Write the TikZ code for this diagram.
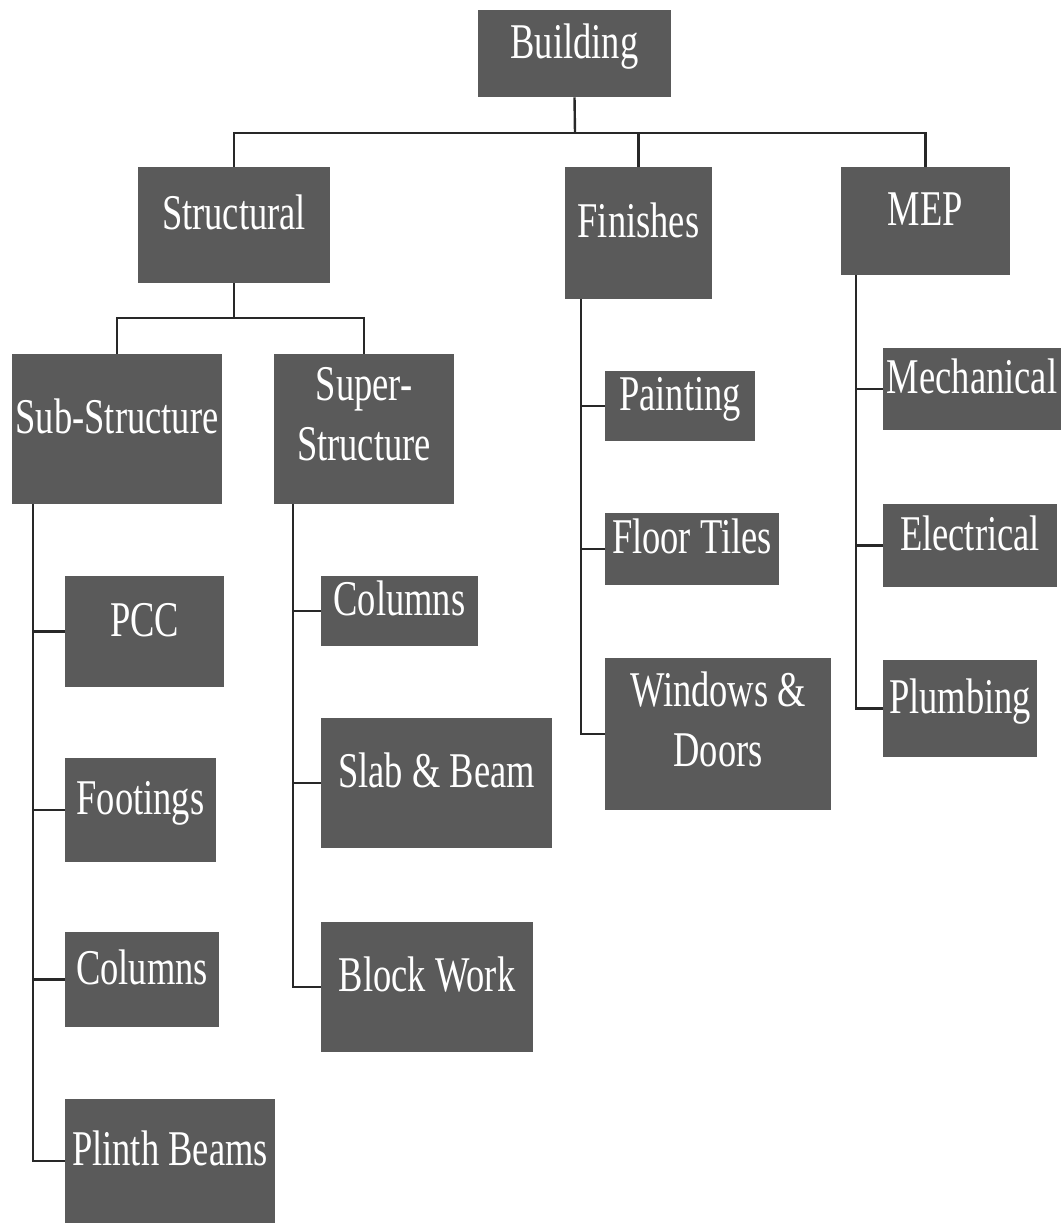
\documentclass[tikz,border=0pt]{standalone}
\usepackage{fontspec}
\setmainfont{Liberation Serif}[FakeStretch=0.73]
\definecolor{boxgray}{RGB}{90,90,90}
\definecolor{linegray}{RGB}{40,40,40}

\begin{document}
\begin{tikzpicture}[x=0.75pt,y=0.75pt,yscale=-1,xscale=1,
	box/.style 2 args={fill=boxgray, text=white, inner sep=0pt, align=center,
		minimum width=#1*0.75pt, minimum height=#2*0.75pt,
		font=\fontsize{37.5}{45}\selectfont, text height=26pt, text depth=19pt},
	twoline/.style={text height={}, text depth=22pt},
	link/.style={draw=linegray, line width=1.8pt}]
	\useasboundingbox (0,0) rectangle (1061,1223);

	\node[box={193}{87}] (building) at (574.5,53.5) {Building};
	\node[box={192}{116}] (structural) at (234,225) {Structural};
	\node[box={147}{132}] (finishes) at (638.5,233) {Finishes};
	\node[box={169}{108}] (mep) at (925.5,221) {MEP};

	\node[box={210}{150}] (substr) at (117,429) {Sub-Structure};
	\node[box={180}{150}, twoline] (superstr) at (364,429) {Super-\\Structure};

	\node[box={159}{111}] (pcc) at (144.5,631.5) {PCC};
	\node[box={151}{104}] (footings) at (140.5,810) {Footings};
	\node[box={154}{95}] (subcols) at (142,979.5) {Columns};
	\node[box={210}{124}] (plinth) at (170,1161) {Plinth Beams};

	\node[box={157}{70}] (supcols) at (399.5,611) {Columns};
	\node[box={231}{130}] (slab) at (436.5,783) {Slab \& Beam};
	\node[box={212}{130}] (block) at (427,987) {Block Work};

	\node[box={150}{70}] (painting) at (680,406) {Painting};
	\node[box={174}{72}] (tiles) at (692,549) {Floor Tiles};
	\node[box={226}{152}, twoline] (windows) at (718,734) {Windows \&\\Doors};

	\node[box={178}{82}] (mech) at (972,389) {Mechanical};
	\node[box={174}{83}] (elec) at (970,545.5) {Electrical};
	\node[box={154}{97}] (plumb) at (960,708.5) {Plumbing};

	\coordinate (bus1) at (575,133);
	\draw[link] (building.south) -- (bus1);
	\draw[link] (structural.north) |- (bus1) -| (mep.north);
	\draw[link] (finishes.north) -- (finishes.north |- bus1);

	\coordinate (bus2) at (234,318);
	\draw[link] (structural.south) -- (bus2);
	\draw[link] (substr.north) |- (bus2) -| (superstr.north);

	\coordinate (subspine) at ([xshift=15.75pt]substr.south west);
	\coordinate (supspine) at ([xshift=14.25pt]superstr.south west);
	\coordinate (finspine) at ([xshift=12pt]finishes.south west);
	\coordinate (mepspine) at ([xshift=11.25pt]mep.south west);

	\draw[link] (subspine) |- (plinth.west);
	\foreach \n in {pcc,footings,subcols}
		\draw[link] (\n.west) -- (\n.west -| subspine);
	\draw[link] (supspine) |- (block.west);
	\foreach \n in {supcols,slab}
		\draw[link] (\n.west) -- (\n.west -| supspine);
	\draw[link] (finspine) |- (windows.west);
	\foreach \n in {painting,tiles}
		\draw[link] (\n.west) -- (\n.west -| finspine);
	\draw[link] (mepspine) |- (plumb.west);
	\foreach \n in {mech,elec}
		\draw[link] (\n.west) -- (\n.west -| mepspine);
\end{tikzpicture}
\end{document}
